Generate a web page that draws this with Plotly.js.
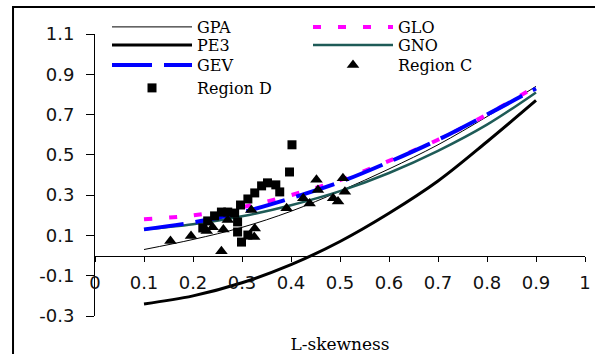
<!DOCTYPE html>
<html>
<head>
<meta charset="utf-8">
<script src="https://cdn.plot.ly/plotly-3.0.1.min.js"></script>
<style>html,body{margin:0;padding:0;background:#fff;}#chart{width:595px;height:354px;}</style>
</head>
<body>
<div id="chart"></div>
<script>
// L-skewness positions of the theoretical curves
var skew = [0.1, 0.2, 0.3, 0.4, 0.5, 0.6, 0.7, 0.8, 0.9];
// L-kurtosis of each distribution curve
var gpa = [0.03, 0.08, 0.14, 0.22, 0.32, 0.43, 0.55, 0.69, 0.84];
var glo = [0.18, 0.20, 0.24, 0.30, 0.375, 0.47, 0.575, 0.70, 0.84];
var pe3 = [-0.24, -0.20, -0.135, -0.045, 0.07, 0.21, 0.37, 0.565, 0.77];
var gno = [0.13, 0.155, 0.195, 0.25, 0.32, 0.41, 0.52, 0.65, 0.81];
var gev = [0.13, 0.165, 0.215, 0.285, 0.365, 0.465, 0.575, 0.70, 0.83];

// Region C sites (triangles)
var regionCSkew = [0.154, 0.196, 0.228, 0.240, 0.258, 0.262, 0.271, 0.319, 0.326, 0.325, 0.391, 0.425, 0.438, 0.452, 0.455, 0.486, 0.496, 0.506, 0.510];
var regionCKurt = [0.072, 0.097, 0.122, 0.140, 0.022, 0.130, 0.177, 0.226, 0.135, 0.092, 0.235, 0.285, 0.258, 0.376, 0.326, 0.285, 0.268, 0.384, 0.317];

// Region D sites (squares)
var regionDSkew = [0.402, 0.397, 0.352, 0.369, 0.377, 0.340, 0.326, 0.312, 0.297, 0.285, 0.258, 0.244, 0.271, 0.230, 0.220, 0.291, 0.291, 0.299, 0.312];
var regionDKurt = [0.550, 0.415, 0.361, 0.351, 0.316, 0.346, 0.311, 0.281, 0.251, 0.211, 0.216, 0.197, 0.216, 0.172, 0.137, 0.167, 0.117, 0.067, 0.102];

// axis ticks
var yTickVals = [-0.3, -0.1, 0.1, 0.3, 0.5, 0.7, 0.9, 1.1];
var yTickText = ['-0.3', '-0.1', '0.1', '0.3', '0.5', '0.7', '0.9', '1.1'];

var serif = "'DejaVu Serif', 'Liberation Serif', serif";
var sans = "'DejaVu Sans', 'Liberation Sans', Arial, sans-serif";

var traces = [
  {name: 'GPA', x: skew, y: gpa, mode: 'lines', line: {color: '#000000', width: 1, shape: 'spline'}, legend: 'legend'},
  {name: 'GLO', x: skew, y: glo, mode: 'lines', line: {color: '#FF00FF', width: 4, dash: '8px,17px', shape: 'spline'}, legend: 'legend2'},
  {name: 'PE3', x: skew, y: pe3, mode: 'lines', line: {color: '#000000', width: 3, shape: 'spline'}, legend: 'legend3'},
  {name: 'GNO', x: skew, y: gno, mode: 'lines', line: {color: '#1E5B57', width: 2.5, shape: 'spline'}, legend: 'legend4'},
  {name: 'GEV', x: skew, y: gev, mode: 'lines', line: {color: '#0000FF', width: 4, dash: '40px,12px', shape: 'spline'}, legend: 'legend5'},
  {name: 'Region C', x: regionCSkew, y: regionCKurt, mode: 'markers', marker: {symbol: 'triangle-up', size: 11, color: '#000000'}, legend: 'legend6'},
  {name: 'Region D', x: regionDSkew, y: regionDKurt, mode: 'markers', marker: {symbol: 'square', size: 9, color: '#000000'}, legend: 'legend7'}
];

function leg(x, y) {
  return {
    x: x, y: y, xanchor: 'left', yanchor: 'top',
    bgcolor: 'rgba(0,0,0,0)', borderwidth: 0,
    font: {family: serif, size: 16, color: '#000'},
    itemwidth: 80, tracegroupgap: 0, orientation: 'v'
  };
}
var col1 = 0.0245, col2 = 0.4347;

var layout = {
  width: 595, height: 354,
  margin: {l: 95, r: 10, t: 34, b: 38},
  paper_bgcolor: '#fff', plot_bgcolor: '#fff',
  showlegend: true,
  legend: leg(col1, 1.0851),
  legend2: leg(col2, 1.0851),
  legend3: leg(col1, 1.0213),
  legend4: leg(col2, 1.0213),
  legend5: leg(col1, 0.9504),
  legend6: leg(col2, 0.9504),
  legend7: leg(col1, 0.8688),
  xaxis: {
    range: [0, 1], tick0: 0, dtick: 0.1,
    anchor: 'free', position: 0.3 / 1.4,
    showgrid: false, zeroline: false,
    showline: true, linecolor: '#000', linewidth: 1,
    ticks: 'outside', ticklen: 5, tickcolor: '#000', tickwidth: 1,
    ticklabelstandoff: 6,
    tickfont: {family: sans, size: 18, color: '#111'},
    title: {text: 'L-skewness', font: {family: serif, size: 17, color: '#000'}, standoff: 46}
  },
  yaxis: {
    range: [-0.3, 1.1], tickmode: 'array', tickvals: yTickVals, ticktext: yTickText,
    showgrid: false, zeroline: false,
    showline: true, linecolor: '#000', linewidth: 1,
    ticks: 'outside', ticklen: 8, tickcolor: '#000', tickwidth: 1,
    ticklabelstandoff: 8,
    tickfont: {family: sans, size: 18, color: '#111'}
  },
  shapes: [
    {type: 'rect', xref: 'paper', yref: 'paper', x0: -0.1673, x1: 1.1, y0: -0.2, y1: 1.0957,
     line: {color: '#000', width: 2}, fillcolor: 'rgba(0,0,0,0)', layer: 'above'}
  ]
};

Plotly.newPlot('chart', traces, layout, {displayModeBar: false, staticPlot: true});
</script>
</body>
</html>
